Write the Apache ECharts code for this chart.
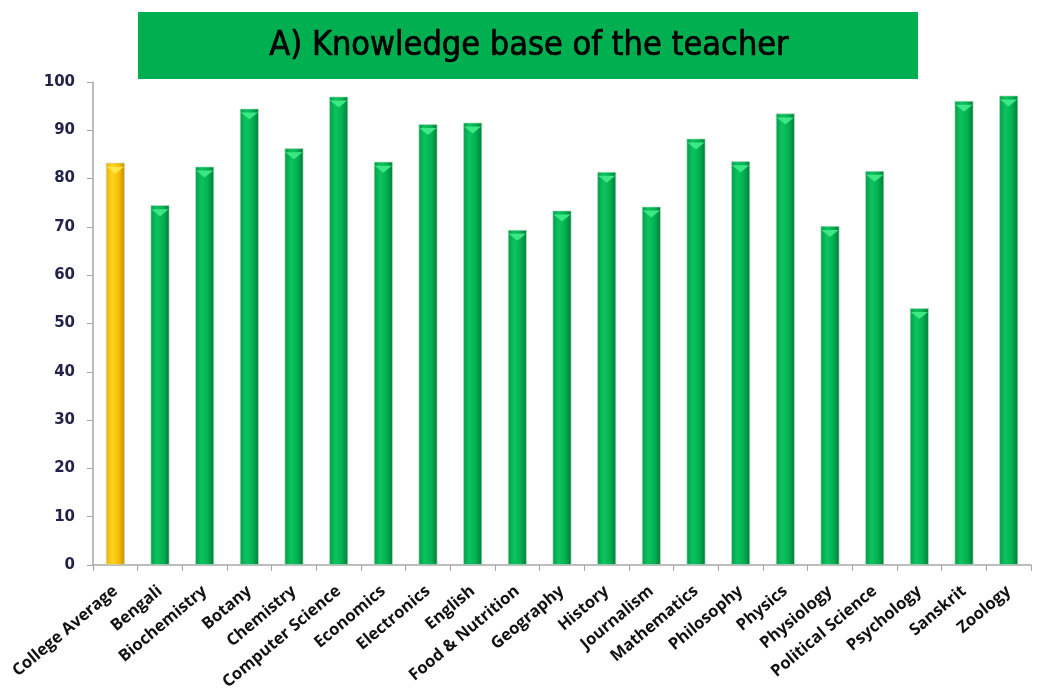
<!DOCTYPE html>
<html>
<head>
<meta charset="utf-8">
<script src="https://cdn.jsdelivr.net/npm/echarts@6/dist/echarts.min.js"></script>
<style>
  html, body { margin: 0; padding: 0; background: #fff; }
  #chart { width: 1046px; height: 693px; }
</style>
</head>
<body>
<div id="chart"></div>
<script>
"use strict";
var subjects = ['College Average', 'Bengali', 'Biochemistry', 'Botany', 'Chemistry', 'Computer Science',
	'Economics', 'Electronics', 'English', 'Food & Nutrition', 'Geography', 'History', 'Journalism',
	'Mathematics', 'Philosophy', 'Physics', 'Physiology', 'Political Science', 'Psychology', 'Sanskrit', 'Zoology'];
var scores = [83.3, 74.5, 82.5, 94.5, 86.3, 97.0, 83.5, 91.3, 91.6, 69.4, 73.4, 81.4, 74.2,
	88.3, 83.6, 93.5, 70.2, 81.6, 53.2, 96.1, 97.2];
var yTicks = [0, 10, 20, 30, 40, 50, 60, 70, 80, 90, 100];

function grad(stops){
	return new echarts.graphic.LinearGradient(0, 0, 1, 0, stops.map(function(c, i){
		return { offset: i / (stops.length - 1), color: c };
	}));
}
var greenFill = grad(['#009c48', '#0cc45f', '#02b152', '#007a36']),
	goldFill = grad(['#f0b000', '#ffd425', '#f8be00', '#c48800']);

var chart = echarts.init(document.getElementById('chart'));
var option = {
	animation: false,
	graphic: [
		{ type: 'rect', shape: { x: 138, y: 12, width: 780, height: 67 }, style: { fill: '#00b050' } },
		{ type: 'text', x: 529, y: 46, style: {
			text: 'A) Knowledge base of the teacher', fill: '#000', stroke: '#000', lineWidth: 0.7,
			font: '34px "Liberation Sans Narrow", "DejaVu Sans Condensed", sans-serif',
			align: 'center', verticalAlign: 'middle' } }
	],
	grid: { left: 93, right: 15, top: 82, bottom: 128, containLabel: false },
	xAxis: {
		type: 'category', data: subjects,
		axisLine: { lineStyle: { color: '#a6a6a6', width: 1.5 } },
		axisTick: { show: true, length: 6, lineStyle: { color: '#a6a6a6' } },
		axisLabel: { interval: 0, rotate: 40, color: '#111', fontWeight: 'bold', fontSize: 16.5,
			fontFamily: '"Open Sans", sans-serif', margin: 24 }
	},
	yAxis: {
		type: 'value', min: 0, max: 100, interval: 10,
		axisLine: { show: true, lineStyle: { color: '#a6a6a6', width: 1.5 } },
		axisTick: { show: true, length: 6, lineStyle: { color: '#a6a6a6' } },
		splitLine: { show: false },
		axisLabel: { color: '#22224a', fontWeight: 'bold', fontSize: 15,
			fontFamily: '"DejaVu Sans", sans-serif', margin: 18 }
	},
	series: [{
		type: 'bar', barWidth: 19,
		data: scores.map(function(v, i){
			return { value: v, itemStyle: { color: i === 0 ? goldFill : greenFill } };
		}),
		itemStyle: { borderColor: 'rgba(190,220,200,0.8)', borderWidth: 0.8 }
	}, {
		type: 'pictorialBar', symbol: 'triangle', symbolRotate: 180,
		symbolSize: [17, 7], symbolPosition: 'end', symbolOffset: [0, 4], z: 5,
		data: scores.map(function(v, i){
			return { value: v, itemStyle: { color: i === 0 ? '#ffe84a' : '#3de884' } };
		})
	}]
};
chart.setOption(option);
</script>
</body>
</html>
